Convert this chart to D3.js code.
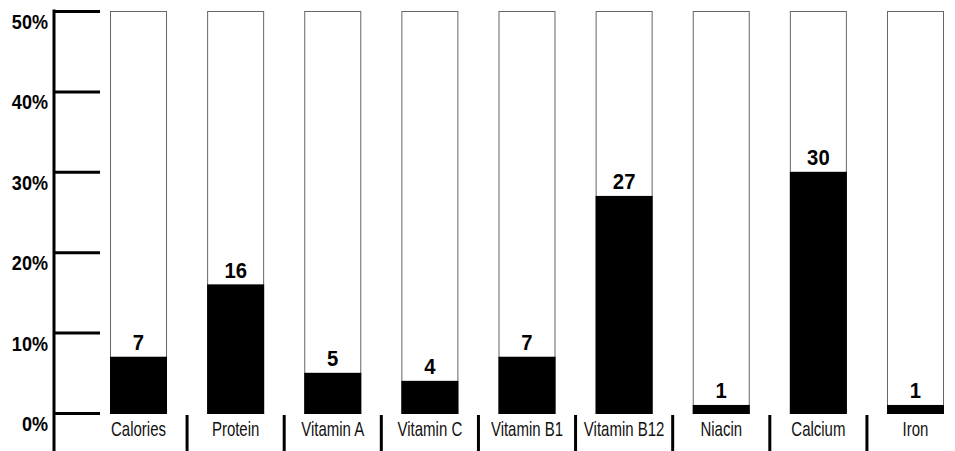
<html>
<head>
<style>
  body { margin: 0; background: #fff; }
  text { font-family: "Liberation Sans", Arial, sans-serif; }
</style>
</head>
<body>
<svg id="chart"></svg>
<script src="https://d3js.org/d3.v7.min.js"></script>
<script>
// nutrient names and % daily value
var categories = ["Calories", "Protein", "Vitamin A", "Vitamin C", "Vitamin B1", "Vitamin B12", "Niacin", "Calcium", "Iron"]
var values = [7, 16, 5, 4, 7, 27, 1, 30, 1]
var yTicks = [0, 10, 20, 30, 40, 50]

var width = 955, height = 451

var svg = d3.select('#chart')
    .attr('width', width)
    .attr('height', height)

var x = d3.scaleBand()
    .domain(categories)
    .range([110, 944])
    .paddingInner(0.413)
    .paddingOuter(0)

var y = d3.scaleLinear()
    .domain([0, 50])
    .range([413, 11])

var axisX = 54

// squeeze text horizontally to fake a condensed face
function squeeze(px, py, s) {
    return 'translate(' + px + ',' + py + ') scale(' + s + ',1)'
}

// y axis spine
svg.append('line')
    .attr('x1', axisX).attr('x2', axisX)
    .attr('y1', y(50) - 1.5).attr('y2', height)
    .attr('stroke', '#000').attr('stroke-width', 3)

// tick marks
var axis = svg.append('g')
    .attr('transform', 'translate(' + axisX + ',0)')
    .call(d3.axisRight(y).tickValues(yTicks).tickSize(46).tickFormat(''))
axis.select('.domain').remove()
axis.selectAll('.tick line').attr('stroke', '#000').attr('stroke-width', 3)

// tick labels, hanging just below each tick
svg.selectAll('.ylab')
    .data(yTicks)
    .enter()
    .append('text')
    .attr('class', 'ylab')
    .attr('transform', function(d) { return squeeze(48, y(d) + 18, 0.86) })
    .attr('text-anchor', 'end')
    .attr('font-size', 21)
    .attr('font-weight', 'bold')
    .text(function(d) { return d + '%' })

// empty bar outlines (full 50%)
svg.selectAll('.outline')
    .data(categories)
    .enter()
    .append('rect')
    .attr('class', 'outline')
    .attr('x', function(d) { return x(d) + 0.5 })
    .attr('y', y(50) + 0.5)
    .attr('width', x.bandwidth() - 1)
    .attr('height', y(0) - y(50))
    .attr('fill', '#fff')
    .attr('stroke', '#666')
    .attr('stroke-width', 1)

// filled part
svg.selectAll('.bar')
    .data(values)
    .enter()
    .append('rect')
    .attr('class', 'bar')
    .attr('x', function(d, i) { return x(categories[i]) })
    .attr('y', function(d) { return y(d) })
    .attr('width', x.bandwidth())
    .attr('height', function(d) { return y(0) - y(d) + 1 })
    .attr('fill', '#000')

// value labels
svg.selectAll('.val')
    .data(values)
    .enter()
    .append('text')
    .attr('class', 'val')
    .attr('transform', function(d, i) { return squeeze(x(categories[i]) + x.bandwidth() / 2, y(d) - 6.5, 0.9) })
    .attr('text-anchor', 'middle')
    .attr('font-size', 22.5)
    .attr('font-weight', 'bold')
    .text(function(d) { return d })

// category labels
svg.selectAll('.cat')
    .data(categories)
    .enter()
    .append('text')
    .attr('class', 'cat')
    .attr('transform', function(d) { return squeeze(x(d) + x.bandwidth() / 2, 436, 0.75) })
    .attr('text-anchor', 'middle')
    .attr('font-size', 20)
    .attr('fill', '#111')
    .text(function(d) { return d })

// separators between the labels
svg.selectAll('.sep')
    .data(categories.slice(1))
    .enter()
    .append('line')
    .attr('class', 'sep')
    .attr('x1', function(d) { return x(d) - x.step() * x.paddingInner() / 2 })
    .attr('x2', function(d) { return x(d) - x.step() * x.paddingInner() / 2 })
    .attr('y1', 415)
    .attr('y2', height)
    .attr('stroke', '#000')
    .attr('stroke-width', 3)
</script>
</body>
</html>
